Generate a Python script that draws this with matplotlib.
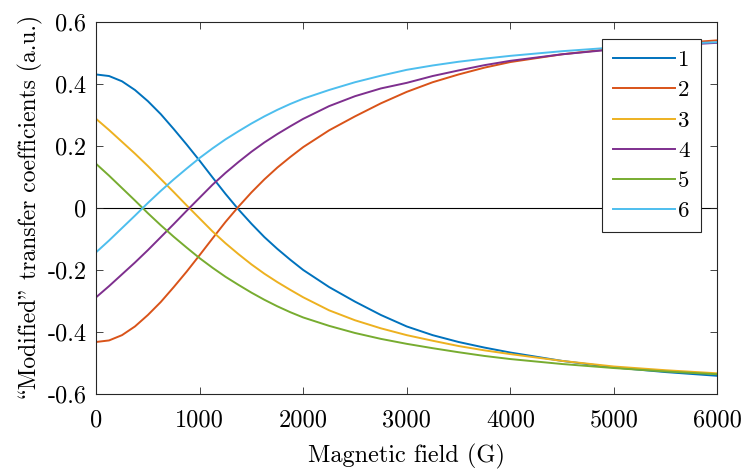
import numpy as np
import matplotlib
matplotlib.use("Agg")
from matplotlib import pyplot as plt


# Values, field in gauss
field = [0, 125, 250, 375, 500, 625, 750, 875, 1000, 1125, 1250, 1375, 1500, 1625, 1750, 1875, 2000,
		 2250, 2500, 2750, 3000, 3250, 3500, 3750, 4000, 4500, 5000, 5500, 6000]

coef_1 = [0.430, 0.425, 0.408, 0.380, 0.344, 0.302, 0.254, 0.204, 0.152, 0.098, 0.045, -0.005, -0.051,
		  -0.094, -0.132, -0.167, -0.200, -0.255, -0.302, -0.345, -0.382, -0.410, -0.432, -0.450, -0.466,
		  -0.493, -0.514, -0.529, -0.541]
coef_2 = [-0.432, -0.427, -0.410, -0.382, -0.345, -0.303, -0.255, -0.205, -0.152, -0.098, -0.045, 0.004, 0.050,
		  0.092, 0.130, 0.164, 0.196, 0.250, 0.295, 0.337, 0.374, 0.405, 0.430, 0.452, 0.470,
		  0.495, 0.513, 0.528, 0.540]
coef_3 = [0.287, 0.251, 0.213, 0.175, 0.135, 0.093, 0.051, 0.008, -0.034, -0.076, -0.114, -0.149, -0.182,
		  -0.212, -0.239, -0.264, -0.288, -0.330, -0.362, -0.388, -0.410, -0.428, -0.445, -0.459, -0.471,
		  -0.493, -0.511, -0.523, -0.533]
coef_4 = [-0.288, -0.252, -0.214, -0.176, -0.136, -0.094, -0.052, -0.009, 0.033, 0.075, 0.113, 0.148, 0.181,
		  0.211, 0.238, 0.263, 0.287, 0.328, 0.360, 0.385, 0.403, 0.425, 0.443, 0.460, 0.474,
		  0.495, 0.511, 0.523, 0.532]
coef_5 = [0.142, 0.104, 0.064, 0.024, -0.017, -0.056, -0.093, -0.128, -0.162, -0.193, -0.222, -0.248, -0.273,
		  -0.296, -0.317, -0.336, -0.353, -0.380, -0.403, -0.422, -0.438, -0.452, -0.465, -0.477, -0.487,
		  -0.503, -0.516, -0.527, -0.536]
coef_6 = [-0.143, -0.105, -0.065, -0.025, 0.016, 0.055, 0.092, 0.127, 0.161, 0.192, 0.221, 0.247, 0.272,
		  0.295, 0.316, 0.335, 0.352, 0.380, 0.405, 0.426, 0.445, 0.459, 0.471, 0.481, 0.490,
		  0.505, 0.517, 0.527, 0.534]

series = [coef_1, coef_2, coef_3, coef_4, coef_5, coef_6]
labels = ['1', '2', '3', '4', '5', '6']

x_ticks = [0, 1000, 2000, 3000, 4000, 5000, 6000]
y_ticks = [-0.6, -0.4, -0.2, 0, 0.2, 0.4, 0.6]
y_tick_labels = ['-0.6', '-0.4', '-0.2', '0', '0.2', '0.4', '0.6']

# MATLAB default colour order
colors = [(0, 0.447, 0.741), (0.85, 0.325, 0.098), (0.929, 0.694, 0.125),
		  (0.494, 0.184, 0.556), (0.466, 0.674, 0.188), (0.301, 0.745, 0.933)]


def main():
	plt.rcParams['font.family'] = ['cmr10', 'DejaVu Serif']
	plt.rcParams['axes.unicode_minus'] = False
	plt.rcParams['font.size'] = 17.5

	fig = plt.figure(figsize=(7.45, 4.72), dpi=100)
	ax = fig.add_axes([0.129, 0.165, 0.834, 0.789])

	ax.plot([x_ticks[0], x_ticks[-1]], [0, 0], color='black', lw=0.8, zorder=1)
	for vals, lab, col in zip(series, labels, colors):
		ax.plot(field, vals, color=col, lw=1.4, label=lab, zorder=2)

	ax.set_xlim(x_ticks[0], x_ticks[-1])
	ax.set_ylim(y_ticks[0], y_ticks[-1])
	ax.set_xticks(x_ticks)
	ax.set_xticklabels([str(t) for t in x_ticks])
	ax.set_yticks(y_ticks)
	ax.set_yticklabels(y_tick_labels)
	ax.tick_params(direction='in', top=True, right=True, length=5, width=0.6,
				   color=(0.15, 0.15, 0.15), pad=7)
	ax.tick_params(axis='x', pad=11)
	for sp in ax.spines.values():
		sp.set_color((0.15, 0.15, 0.15))
		sp.set_linewidth(0.8)

	ax.set_xlabel('Magnetic field (G)', labelpad=9)
	# in cmr10 the backslash slot holds the opening double quote (TeX OT1 layout)
	ax.set_ylabel('\\Modified" transfer coefficients (a.u.)', labelpad=3, fontsize=17)

	leg = ax.legend(loc='upper right', bbox_to_anchor=(0.974, 0.954), borderaxespad=0,
					fancybox=False, framealpha=1, edgecolor=(0.15, 0.15, 0.15),
					handlelength=2.7, labelspacing=0.44, handletextpad=0.15,
					borderpad=0.5, fontsize=16.5)
	leg.get_frame().set_linewidth(0.8)

	fig.savefig('out.png', dpi=100)


if __name__ == "__main__":
	main()
